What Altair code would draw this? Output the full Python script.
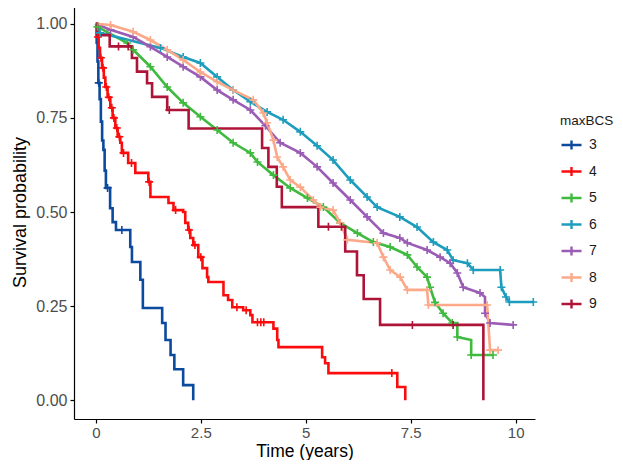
import altair as alt
import pandas as pd

GROUPS = ["3", "4", "5", "6", "7", "8", "9"]
COLORS = ["#0c4a9e", "#fb0d0d", "#3fba3f", "#1d9dbd", "#9a5cb4", "#fca98a", "#ae1438"]

# Kaplan-Meier estimates (time in years, survival)
T3 = [0, 0.02, 0.04, 0.06, 0.09, 0.12, 0.15, 0.18, 0.21, 0.24, 0.34, 0.40, 0.48, 0.82, 0.86, 1.06, 1.12, 1.58, 1.66, 1.78, 1.87, 2.08, 2.32]
S3 = [1.0, 0.95, 0.90, 0.843, 0.80, 0.74, 0.69, 0.665, 0.61, 0.564, 0.51, 0.473, 0.452, 0.407, 0.367, 0.32, 0.245, 0.205, 0.16, 0.12, 0.082, 0.04, 0.0]

T4 = [0, 0.03, 0.067, 0.10, 0.148, 0.19, 0.226, 0.28, 0.345, 0.40, 0.464, 0.52, 0.583, 0.62, 0.77, 0.94, 1.25, 1.30, 1.73, 1.85, 2.08, 2.13, 2.20, 2.25, 2.32, 2.44, 2.54, 2.65, 2.68, 3.04, 3.15, 3.25, 3.51, 3.68, 3.73, 4.23, 4.32, 4.35, 5.39, 5.46, 5.54, 7.18, 7.37]
S4 = [1.0, 0.965, 0.936, 0.91, 0.883, 0.857, 0.832, 0.805, 0.777, 0.75, 0.723, 0.70, 0.684, 0.657, 0.63, 0.604, 0.58, 0.54, 0.524, 0.505, 0.50, 0.471, 0.452, 0.431, 0.412, 0.38, 0.351, 0.327, 0.314, 0.279, 0.266, 0.247, 0.239, 0.226, 0.207, 0.19, 0.16, 0.141, 0.114, 0.098, 0.072, 0.035, 0.0]

T5 = [0, 0.04, 0.75, 0.89, 1.30, 1.70, 2.08, 2.49, 2.89, 3.27, 3.68, 3.85, 4.23, 4.63, 5.04, 5.42, 5.82, 6.23, 6.61, 7.01, 7.42, 7.65, 7.89, 7.96, 8.08, 8.27, 8.49, 8.61, 8.61, 8.94, 8.94, 9.46]
S5 = [1.0, 0.992, 0.949, 0.931, 0.886, 0.832, 0.79, 0.753, 0.718, 0.684, 0.657, 0.633, 0.598, 0.564, 0.537, 0.513, 0.471, 0.444, 0.42, 0.407, 0.386, 0.354, 0.327, 0.30, 0.26, 0.231, 0.205, 0.205, 0.168, 0.16, 0.12, 0.12]

T6 = [0, 0.10, 1.54, 2.08, 2.49, 2.89, 3.27, 3.68, 4.08, 4.46, 4.87, 5.27, 5.65, 6.06, 6.46, 6.70, 7.24, 7.65, 8.04, 8.37, 8.51, 8.85, 8.99, 9.63, 9.66, 9.77, 9.85, 10.42]
S6 = [1.0, 0.976, 0.936, 0.912, 0.896, 0.859, 0.824, 0.793, 0.766, 0.745, 0.713, 0.676, 0.638, 0.585, 0.54, 0.513, 0.487, 0.46, 0.42, 0.399, 0.372, 0.364, 0.346, 0.346, 0.30, 0.274, 0.261, 0.261]

T7 = [0, 0.35, 0.89, 1.30, 1.70, 2.08, 2.49, 2.89, 3.27, 3.68, 4.04, 4.39, 4.87, 5.27, 5.65, 6.06, 6.46, 6.85, 7.24, 7.42, 7.89, 8.20, 8.44, 8.61, 8.75, 9.15, 9.27, 9.27, 9.39, 9.94]
S7 = [1.0, 0.984, 0.965, 0.939, 0.912, 0.886, 0.859, 0.824, 0.798, 0.771, 0.729, 0.684, 0.657, 0.62, 0.577, 0.532, 0.487, 0.444, 0.431, 0.418, 0.399, 0.38, 0.364, 0.338, 0.30, 0.285, 0.274, 0.231, 0.205, 0.20]

T8 = [0, 0.35, 0.89, 1.30, 1.70, 2.08, 2.49, 2.89, 3.27, 3.75, 3.99, 4.08, 4.23, 4.32, 4.46, 4.63, 4.87, 5.18, 5.35, 5.65, 5.82, 5.99, 6.70, 6.85, 7.01, 7.25, 7.42, 7.89, 7.92, 9.32, 9.39, 9.58]
S8 = [1.0, 0.997, 0.979, 0.957, 0.931, 0.904, 0.872, 0.846, 0.824, 0.798, 0.763, 0.737, 0.691, 0.646, 0.62, 0.585, 0.566, 0.532, 0.513, 0.505, 0.471, 0.426, 0.418, 0.38, 0.346, 0.327, 0.293, 0.293, 0.253, 0.253, 0.133, 0.133]

T9 = [0, 0.03, 0.33, 0.86, 0.98, 1.22, 1.34, 1.70, 2.21, 3.96, 4.11, 4.31, 4.43, 5.30, 5.94, 6.22, 6.38, 6.77, 9.23]
S9 = [1.0, 0.97, 0.94, 0.909, 0.873, 0.842, 0.806, 0.771, 0.722, 0.67, 0.62, 0.567, 0.513, 0.461, 0.395, 0.332, 0.269, 0.20, 0.0]

# censoring marks for the sparse curves
C3_T = [0.07, 0.28, 0.62]
C3_S = [0.843, 0.564, 0.452]
C4_T = [0.05, 0.12, 0.17, 0.25, 0.31, 0.38, 0.43, 0.50, 0.56, 0.66, 0.85, 1.27, 1.90, 2.22, 2.36, 2.50, 3.36, 3.58, 3.85, 3.93, 4.00, 7.05]
C4_S = [0.965, 0.91, 0.883, 0.832, 0.805, 0.777, 0.75, 0.723, 0.70, 0.657, 0.63, 0.58, 0.505, 0.452, 0.412, 0.38, 0.247, 0.239, 0.207, 0.207, 0.207, 0.072]
C9_T = [0.54, 0.77, 1.75, 5.54, 5.85, 7.54, 8.51]
C9_S = [0.94, 0.94, 0.771, 0.461, 0.461, 0.20, 0.20]

CURVES = {"3": (T3, S3), "4": (T4, S4), "5": (T5, S5), "6": (T6, S6),
          "7": (T7, S7), "8": (T8, S8), "9": (T9, S9)}
STEP_GROUPS = ["3", "4", "9"]
SPARSE_CENS = {"3": (C3_T, C3_S), "4": (C4_T, C4_S), "9": (C9_T, C9_S)}

legend = alt.Legend(
    title="maxBCS", orient="none", legendX=486, legendY=109, padding=0,
    symbolType="M-1,0H1M0,-0.45V0.45", symbolSize=400, symbolStrokeWidth=2.4,
    labelFontSize=14, titleFontSize=13.5, titleFontWeight="normal",
    labelFont="Liberation Sans", titleFont="Liberation Sans",
    labelColor="#1a1a1a", titleColor="#1a1a1a",
    rowPadding=5.5, titlePadding=6, labelOffset=6,
)
color = alt.Color("g:N", scale=alt.Scale(domain=GROUPS, range=COLORS), legend=legend)
X = alt.X("t:Q", scale=alt.Scale(domain=[-0.52, 10.46], nice=False, zero=False),
          axis=alt.Axis(values=[0, 2.5, 5, 7.5, 10], format=".1~f", title="Time (years)",
                        labelPadding=2, labelFontSize=15, titlePadding=2, titleFontSize=17.5))
Y = alt.Y("s:Q", scale=alt.Scale(domain=[-0.05, 1.05], nice=False, zero=False),
          axis=alt.Axis(values=[0, 0.25, 0.5, 0.75, 1.0], format=".2f", title="Survival probability",
                        labelPadding=3, titlePadding=6, titleFontSize=18))

layers = []
cens_rows = []
for g in GROUPS:
    t, s = CURVES[g]
    df = pd.DataFrame({"t": t, "s": s, "g": g, "i": list(range(len(t)))})
    interp = "step-after" if g in STEP_GROUPS else "linear"
    layers.append(
        alt.Chart(df).mark_line(interpolate=interp, strokeWidth=2.6).encode(
            x=X, y=Y, color=color, order="i:Q")
    )
    if g in SPARSE_CENS:
        ct, cs = SPARSE_CENS[g]
    else:
        keep = [k for k, v in enumerate(t) if k > 0 and not (k + 1 < len(t) and t[k + 1] == v)]
        ct = [t[k] for k in keep]
        cs = [s[k] for k in keep]
    for a, b in zip(ct, cs):
        cens_rows.append({"t": a, "s": b, "g": g})

cens = pd.DataFrame(cens_rows)
points = alt.Chart(cens).mark_point(
    shape="M-1,0H1M0,-1V1", size=64, filled=False, strokeWidth=1.6, opacity=1
).encode(x=X, y=Y, color=color)

chart = alt.layer(*layers, points).properties(
    width=461, height=414,
    autosize=alt.AutoSizeParams(type="none"),
    padding={"left": 66, "top": -3, "right": 79, "bottom": 41},
).configure_view(stroke=None).configure_axis(
    grid=False, domainColor="black", domainWidth=1.2, tickColor="black", tickWidth=1.2,
    tickSize=4, labelColor="#4d4d4d", labelFontSize=16, labelFont="Liberation Sans",
    titleFont="Liberation Sans", titleFontWeight="normal", titleColor="black",
)

chart.save("out.html", embed_options={"renderer": "svg", "actions": False})
